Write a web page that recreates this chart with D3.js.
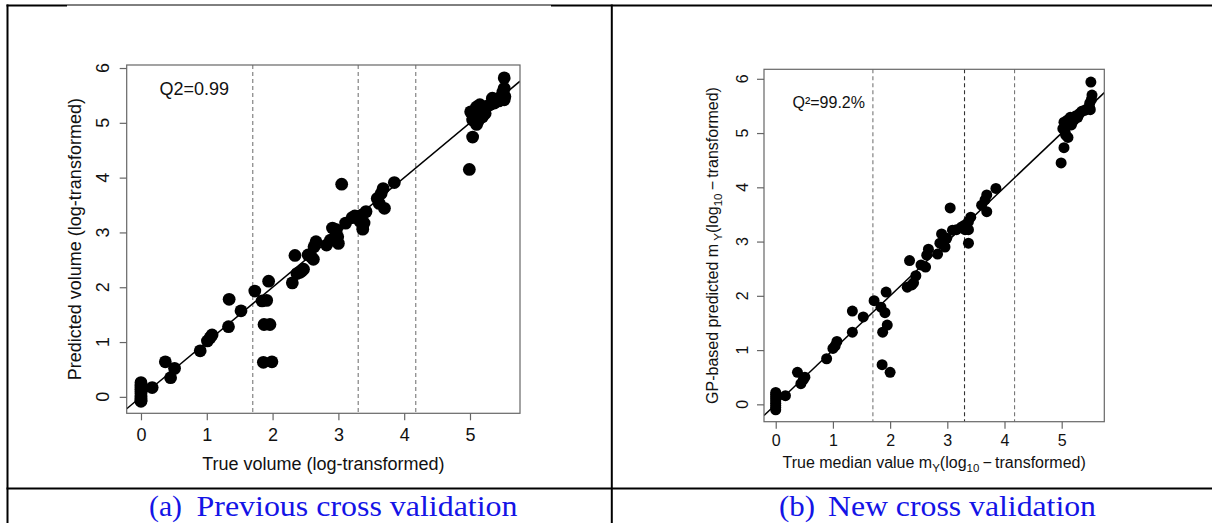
<!DOCTYPE html>
<html>
<head>
<meta charset="utf-8">
<script src="https://cdn.jsdelivr.net/npm/d3@7/dist/d3.min.js"></script>
<style>
  html, body { margin: 0; padding: 0; background: #fff; }
  svg { display: block; }
</style>
</head>
<body>
<svg id="chart" width="1212" height="523"></svg>
<script>
// ---------------- DATA ----------------
const xTicks = [0, 1, 2, 3, 4, 5];
const yTicks = [0, 1, 2, 3, 4, 5, 6];
const thresholds = [1.699, 3.301, 4.176];   // log10(50), log10(2000), log10(15000)
const refLine = { intercept: 0, slope: 1 };

const captionA = ["(a)", "Previous cross validation"];
const captionB = ["(b)", "New cross validation"];
const statA = "Q2=0.99";
const statB = "Q\u00B2=99.2%";

// Panel (a): previous cross validation  [true, predicted]
const prevTrue = [0,0,0,0,0,0,0,0,0,0,
  0.17,0.37,0.45,0.51,0.90,1.01,1.05,1.08,1.33,1.34,1.52,1.73,1.84,1.91,1.94,1.87,1.96,1.86,1.99,
  2.30,2.34,2.37,2.41,2.44,2.47,2.54,2.59,2.62,2.63,2.66,2.82,2.88,2.91,2.97,2.99,3.00,3.05,
  3.11,3.21,3.25,3.28,3.33,3.36,3.37,3.39,3.42,3.59,3.62,3.65,3.68,3.70,3.85,4.99,5.04,
  5.01,5.04,5.06,5.07,5.10,5.10,5.12,5.13,5.15,5.17,5.19,5.21,5.25,5.23,5.30,5.34,5.37,5.40,5.44,5.47,5.50,5.52,5.53,5.52,5.52];
const prevPred = [0.26,0.22,0.18,0.14,0.10,0.06,0.02,-0.02,-0.06,-0.08,
  0.17,0.64,0.35,0.52,0.84,1.02,1.08,1.13,1.28,1.78,1.57,1.93,1.75,1.76,2.11,1.32,1.32,0.63,0.64,
  2.08,2.58,2.25,2.27,2.29,2.33,2.59,2.55,2.51,2.74,2.83,2.77,2.86,3.08,3.05,2.92,2.80,3.88,
  3.17,3.27,3.30,3.29,3.20,3.32,3.06,3.17,3.38,3.62,3.53,3.71,3.80,3.44,3.91,4.15,4.74,
  5.20,5.05,5.12,5.14,4.97,5.29,5.03,5.20,5.33,5.10,5.11,5.22,5.29,5.17,5.33,5.45,5.36,5.42,5.40,5.47,5.56,5.63,5.48,5.42,5.82];

// Panel (b): new cross validation  [true median, GP predicted]
const newTrue = [0,0,0,0,0,0,0,0,0,
  0.17,0.38,0.44,0.48,0.51,0.89,1.00,1.04,1.07,1.34,1.34,1.53,1.72,1.84,1.91,1.93,1.87,1.95,1.86,2.00,
  2.30,2.34,2.38,2.41,2.45,2.54,2.62,2.64,2.67,2.83,2.87,2.90,2.96,2.99,3.05,
  3.09,3.16,3.25,3.30,3.31,3.37,3.37,3.37,3.41,3.60,3.66,3.69,3.69,3.85,4.99,5.04,
  5.02,5.04,5.06,5.07,5.08,5.10,5.11,5.13,5.15,5.17,5.19,5.22,5.25,5.28,5.31,5.35,5.40,5.45,5.49,5.49,5.50,5.53,5.51,5.52];
const newPred = [0.22,0.18,0.14,0.10,0.06,0.02,-0.02,-0.06,-0.10,
  0.16,0.59,0.38,0.45,0.50,0.84,1.03,1.08,1.16,1.33,1.72,1.61,1.91,1.79,1.69,2.07,1.33,1.46,0.73,0.59,
  2.16,2.65,2.20,2.24,2.37,2.57,2.53,2.75,2.86,2.77,2.97,3.14,2.90,3.06,3.62,
  3.21,3.22,3.27,3.30,3.22,3.37,2.97,3.22,3.45,3.67,3.77,3.86,3.55,3.98,4.45,4.73,
  5.08,5.20,5.02,4.96,5.13,5.24,4.92,5.18,5.29,5.15,5.21,5.25,5.32,5.29,5.36,5.40,5.42,5.45,5.55,5.46,5.43,5.70,5.94,5.62];

// ---------------- DRAW ----------------
const svg = d3.select("#chart");
const SANS = "'Liberation Sans', Arial, Helvetica, sans-serif";
const SERIF = "'Liberation Serif', 'Times New Roman', serif";

// table borders
const borders = svg.append("g").attr("stroke", "#000").attr("fill", "none");
borders.append("line").attr("x1", 7.5).attr("x2", 7.5).attr("y1", 4.5).attr("y2", 523).attr("stroke-width", 2);
borders.append("line").attr("x1", 6.5).attr("x2", 67).attr("y1", 5.5).attr("y2", 5.5).attr("stroke-width", 2);
borders.append("line").attr("x1", 67).attr("x2", 551).attr("y1", 5).attr("y2", 5).attr("stroke-width", 1);
borders.append("line").attr("x1", 551).attr("x2", 1212).attr("y1", 5.5).attr("y2", 5.5).attr("stroke-width", 2);
borders.append("line").attr("x1", 611.8).attr("x2", 611.8).attr("y1", 4.5).attr("y2", 523).attr("stroke-width", 2);
borders.append("line").attr("x1", 6.5).attr("x2", 1212).attr("y1", 488.6).attr("y2", 488.6).attr("stroke-width", 2);

function panel(cfg) {
  const x = d3.scaleLinear().domain(cfg.xDom).range([cfg.left, cfg.right]);
  const y = d3.scaleLinear().domain(cfg.yDom).range([cfg.bottom, cfg.top]);
  const g = svg.append("g");
  const clipId = "clip" + cfg.id;
  g.append("clipPath").attr("id", clipId).append("rect")
    .attr("x", cfg.left).attr("y", cfg.top)
    .attr("width", cfg.right - cfg.left).attr("height", cfg.bottom - cfg.top);

  // dashed thresholds
  g.selectAll(".thr").data(thresholds).enter().append("line")
    .attr("x1", d => x(d)).attr("x2", d => x(d))
    .attr("y1", cfg.top).attr("y2", cfg.bottom)
    .attr("stroke", (d, i) => (cfg.darkMid && i === 1) ? "#333" : "#777")
    .attr("stroke-width", 1.1)
    .attr("stroke-dasharray", "4,3");

  // reference line
  const xd = x.domain();
  g.append("line")
    .attr("clip-path", `url(#${clipId})`)
    .attr("x1", x(xd[0])).attr("y1", y(refLine.intercept + refLine.slope * xd[0]))
    .attr("x2", x(xd[1])).attr("y2", y(refLine.intercept + refLine.slope * xd[1]))
    .attr("stroke", "#000").attr("stroke-width", 1.5);

  // points
  g.selectAll(".pt").data(cfg.xs.map((v, i) => [v, cfg.ys[i]])).enter().append("circle")
    .attr("cx", d => x(d[0])).attr("cy", d => y(d[1])).attr("r", cfg.r).attr("fill", "#000");

  // box
  g.append("rect").attr("x", cfg.left).attr("y", cfg.top)
    .attr("width", cfg.right - cfg.left).attr("height", cfg.bottom - cfg.top)
    .attr("fill", "none").attr("stroke", "#666").attr("stroke-width", 1.2);

  // x axis
  const ax = g.append("g").attr("transform", `translate(0,${cfg.bottom})`)
    .call(d3.axisBottom(x).tickValues(xTicks).tickSize(7).tickPadding(cfg.xPad).tickFormat(d3.format("d")));
  ax.select(".domain").remove();
  ax.selectAll(".tick line").attr("stroke", "#666").attr("stroke-width", 1.2);
  ax.selectAll(".tick text").attr("fill", "#111").style("font-family", SANS).style("font-size", cfg.fs + "px");

  // y axis
  const ay = g.append("g").attr("transform", `translate(${cfg.left},0)`)
    .call(d3.axisLeft(y).tickValues(yTicks).tickSize(7).tickFormat(""));
  ay.select(".domain").remove();
  ay.selectAll(".tick line").attr("stroke", "#666").attr("stroke-width", 1.2);
  g.selectAll(".ylab").data(yTicks).enter().append("text")
    .attr("transform", d => `translate(${cfg.yLabX},${y(d)}) rotate(-90)`)
    .attr("text-anchor", "middle").attr("dy", "0.36em")
    .attr("fill", "#111").style("font-family", SANS).style("font-size", cfg.fs + "px")
    .text(d => d);

  // stat text
  g.append("text").attr("x", cfg.statX).attr("y", cfg.statY)
    .attr("fill", "#111").style("font-family", SANS).style("font-size", cfg.fs + "px")
    .text(cfg.stat);

  return g;
}

// Panel (a)
const gA = panel({
  id: "A", xs: prevTrue, ys: prevPred,
  xDom: [-0.217, 5.76], yDom: [-0.30, 6.055],
  left: 126.7, right: 520, top: 65, bottom: 413.3,
  r: 6.4, fs: 18, xPad: 8, yLabX: 103, darkMid: false,
  stat: statA, statX: 159.5, statY: 95
});
gA.append("text").attr("x", (126.7 + 520) / 2).attr("y", 469.5)
  .attr("text-anchor", "middle").attr("fill", "#111")
  .style("font-family", SANS).style("font-size", "18px")
  .text("True volume (log-transformed)");
gA.append("text").attr("transform", `translate(76,${(65 + 413.3) / 2}) rotate(-90)`)
  .attr("text-anchor", "middle").attr("dy", "0.3em").attr("fill", "#111")
  .style("font-family", SANS).style("font-size", "18px")
  .text("Predicted volume (log-transformed)");

// Panel (b)
const gB = panel({
  id: "B", xs: newTrue, ys: newPred,
  xDom: [-0.205, 5.745], yDom: [-0.32, 6.175],
  left: 764, right: 1104.3, top: 69.3, bottom: 421.7,
  r: 5.5, fs: 16, xPad: 5.5, yLabX: 742.5, darkMid: true,
  stat: statB, statX: 792.5, statY: 108
});
// x label with subscripts
const xl = gB.append("text").attr("x", (764 + 1104.3) / 2).attr("y", 467.5)
  .attr("text-anchor", "middle").attr("fill", "#111")
  .style("font-family", SANS).style("font-size", "16px");
xl.append("tspan").text("True median value m");
xl.append("tspan").attr("dy", 4).style("font-size", "11.5px").text("Y");
xl.append("tspan").attr("dy", -4).text("(log");
xl.append("tspan").attr("dy", 4).style("font-size", "11.5px").text("10");
xl.append("tspan").attr("dy", -4).text("\u2009\u2212\u2009transformed)");

const yl = gB.append("text").attr("transform", `translate(713.5,${(69.3 + 421.7) / 2}) rotate(-90)`)
  .attr("text-anchor", "middle").attr("dy", "0.3em").attr("fill", "#111")
  .style("font-family", SANS).style("font-size", "16px");
yl.append("tspan").text("GP-based predicted m\u2009");
yl.append("tspan").attr("dy", 4).style("font-size", "11.5px").text("Y");
yl.append("tspan").attr("dy", -4).text("(log");
yl.append("tspan").attr("dy", 4).style("font-size", "11.5px").text("10");
yl.append("tspan").attr("dy", -4).text("\u2009\u2212\u2009transformed)");

// captions
function caption(parts, x0, x1, w0, w1) {
  const t = svg.append("text").attr("y", 516).attr("fill", "#1414e6")
    .style("font-family", SERIF).style("font-size", "30px");
  t.append("tspan").attr("x", x0).attr("textLength", w0).attr("lengthAdjust", "spacingAndGlyphs").text(parts[0]);
  t.append("tspan").attr("x", x1).attr("textLength", w1).attr("lengthAdjust", "spacingAndGlyphs").text(parts[1]);
}
caption(captionA, 149, 196.5, 33, 321);
caption(captionB, 779, 828, 36, 268);
</script>
</body>
</html>
